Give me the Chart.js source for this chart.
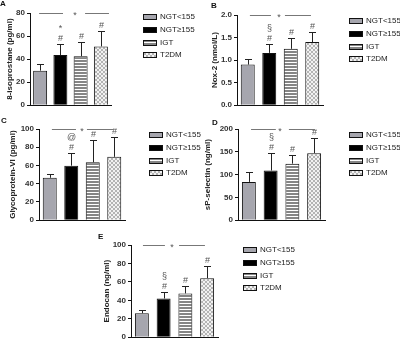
<!DOCTYPE html>
<html>
<head>
<meta charset="utf-8">
<script src="https://cdn.jsdelivr.net/npm/chart.js@4.4.0/dist/chart.umd.min.js"></script>
<style>
  body { margin: 0; background: #fff; }
  #wrap { position: relative; width: 400px; height: 344px; overflow: hidden; font-family: Arial, "Liberation Sans", sans-serif; }
  #wrap canvas { position: absolute; }
  .tag { position: absolute; font-weight: bold; font-size: 8px; line-height: 8px; color: #111; }
  .key { position: absolute; height: 8px; font-size: 8px; line-height: 8px; color: #222; white-space: nowrap; }
  .key canvas { left: 0; top: 1px; }
  .key span { position: absolute; left: 17px; top: 0; }
</style>
</head>
<body>
<div id="wrap"></div>
<script>
// groups shown in every panel
const groups = ['NGT<155', 'NGT≥155', 'IGT', 'T2DM'];

// A: 8-isoprostane
const isoMean = [30, 43.5, 42.5, 51];
const isoUpper = [36, 53.5, 54.5, 64.5];
const isoTicks = [0, 20, 40, 60, 80];

// B: Nox-2
const noxMean = [0.9, 1.16, 1.25, 1.4];
const noxUpper = [1.03, 1.35, 1.48, 1.63];
const noxTicks = [0, 0.5, 1.0, 1.5, 2.0];

// C: Glycoprotein-VI
const gpMean = [46.5, 59.8, 63.5, 69.5];
const gpUpper = [51, 74, 87.5, 91];
const gpTicks = [0, 20, 40, 60, 80, 100];

// D: sP-selectin
const selMean = [84, 109, 124, 147];
const selUpper = [105, 147, 142, 180];
const selTicks = [0, 50, 100, 150, 200];

// E: Endocan
const endoMean = [26, 42, 47.5, 64];
const endoUpper = [29.5, 49.5, 55, 77];
const endoTicks = [0, 20, 40, 60, 80, 100];

// significance symbols
const hashMarks = ['', '#', '#', '#'];
const isoMarks = ['', '*', '', ''];
const noxMarks = ['', '§', '', ''];
const gpMarks = ['', '@', '', ''];
const selMarks = ['', '§', '', ''];
const endoMarks = ['', '§', '', ''];

const FONT = 'Arial, "Liberation Sans", sans-serif';
Chart.defaults.font.family = FONT;

function stripes() {
    const c = document.createElement('canvas');
    c.width = 4; c.height = 3;
    const g = c.getContext('2d');
    g.fillStyle = '#ffffff'; g.fillRect(0, 0, 4, 3);
    g.fillStyle = '#858585'; g.fillRect(0, 0, 4, 2);
    return g.createPattern(c, 'repeat');
}
function hatch() {
    const c = document.createElement('canvas');
    c.width = 4; c.height = 4;
    const g = c.getContext('2d');
    g.fillStyle = '#f2f2f2'; g.fillRect(0, 0, 4, 4);
    g.fillStyle = '#b4b4b4';
    for (let i = 0; i < 4; i++) { g.fillRect(i, i, 1, 1); g.fillRect(3 - i, i, 1, 1); }
    return g.createPattern(c, 'repeat');
}
const fills = ['#a6a6ae', '#000000', stripes(), hatch()];

// error bars, symbols and the comparison line on top
const marks = {
    id: 'marks',
    afterDatasetsDraw(chart, args, o) {
        const ctx = chart.ctx, x = chart.scales.x, y = chart.scales.y;
        ctx.save();
        ctx.lineWidth = 1;
        ctx.textAlign = 'center';
        ctx.textBaseline = 'middle';
        ctx.font = '9px ' + FONT;
        o.upper.forEach((u, i) => {
            const px = Math.round(x.getPixelForValue(i)) + 0.5;
            const top = y.getPixelForValue(o.mean[i]);
            const cap = Math.round(y.getPixelForValue(u)) + 0.5;
            ctx.strokeStyle = '#222';
            ctx.beginPath();
            ctx.moveTo(px, top); ctx.lineTo(px, cap);
            ctx.moveTo(px - 3.5, cap); ctx.lineTo(px + 3.5, cap);
            ctx.stroke();
            ctx.fillStyle = '#555';
            if (o.hash[i]) ctx.fillText(o.hash[i], px, cap - 6);
            if (o.extra[i]) ctx.fillText(o.extra[i], px, cap - 16);
        });
        const ly = Math.round(y.top) + 0.5;
        ctx.strokeStyle = '#777';
        o.segs.forEach(s => {
            ctx.beginPath();
            ctx.moveTo(x.getPixelForValue(s[0]), ly);
            ctx.lineTo(x.getPixelForValue(s[1]), ly);
            ctx.stroke();
        });
        ctx.fillStyle = '#555';
        ctx.fillText('*', x.getPixelForValue(o.star), ly + 2);
        ctx.restore();
    }
};

const panels = [
    {tag: 'A', tx: 0, ty: 0, mean: isoMean, upper: isoUpper, ticks: isoTicks, dec: 0, extra: isoMarks,
     title: '8-isoprostane (pg/ml)', px: 0, py: 0, axisW: 30, plotW: 81, padT: 13, padB: 6, titlePad: 5,
     bar: 0.69, segs: [[-0.05, 1.13], [2.22, 3.4]], star: 1.72, lx: 143, ly: 17},
    {tag: 'B', tx: 211, ty: 2, mean: noxMean, upper: noxUpper, ticks: noxTicks, dec: 1, extra: noxMarks,
     title: 'Nox-2 (nmol/L)', px: 200, py: 0, axisW: 37, plotW: 86, padT: 15, padB: 5, titlePad: 10,
     bar: 0.65, segs: [[0.1, 1.08], [1.73, 2.94]], star: 1.45, lx: 349, ly: 21},
    {tag: 'C', tx: 1, ty: 117, mean: gpMean, upper: gpUpper, ticks: gpTicks, dec: 0, extra: gpMarks,
     title: 'Glycoprotein-VI (pg/ml)', px: 0, py: 115, axisW: 39, plotW: 86, padT: 14, padB: 5, titlePad: 8,
     bar: 0.65, segs: [[0.1, 1.22], [1.73, 2.94]], star: 1.5, lx: 149, ly: 135},
    {tag: 'D', tx: 212, ty: 119, mean: selMean, upper: selUpper, ticks: selTicks, dec: 0, extra: selMarks,
     title: 'sP-selectin (ng/ml)', px: 200, py: 115, axisW: 38, plotW: 87, padT: 14, padB: 5, titlePad: 3,
     bar: 0.64, segs: [[0.1, 1.24], [1.84, 3.04]], star: 1.43, lx: 349, ly: 135},
    {tag: 'E', tx: 98, ty: 233, mean: endoMean, upper: endoUpper, ticks: endoTicks, dec: 0, extra: endoMarks,
     title: 'Endocan (ng/ml)', px: 100, py: 232, axisW: 31, plotW: 87, padT: 13, padB: 5, titlePad: 2,
     bar: 0.64, segs: [[0.05, 1.06], [1.71, 2.9]], star: 1.39, lx: 243, ly: 250}
];

const wrap = document.getElementById('wrap');

function addLegend(p) {
    groups.forEach((g, i) => {
        const row = document.createElement('div');
        row.className = 'key';
        row.style.left = p.lx + 'px';
        row.style.top = Math.round(p.ly - 4 + i * 12.8) + 'px';
        const sw = document.createElement('canvas');
        sw.width = 14; sw.height = 6;
        const c = sw.getContext('2d');
        c.fillStyle = fills[i];
        c.fillRect(0, 0, 14, 6);
        c.strokeStyle = '#111';
        c.strokeRect(0.5, 0.5, 13, 5);
        const t = document.createElement('span');
        t.textContent = g;
        row.appendChild(sw);
        row.appendChild(t);
        wrap.appendChild(row);
    });
}

panels.forEach(p => {
    const cv = document.createElement('canvas');
    cv.width = p.axisW + p.plotW + 4; cv.height = 112;
    cv.style.left = p.px + 'px'; cv.style.top = p.py + 'px';
    wrap.appendChild(cv);

    const tag = document.createElement('div');
    tag.className = 'tag';
    tag.textContent = p.tag;
    tag.style.left = p.tx + 'px'; tag.style.top = p.ty + 'px';
    wrap.appendChild(tag);

    addLegend(p);

    new Chart(cv.getContext('2d'), {
        type: 'bar',
        data: {
            labels: groups,
            datasets: [{
                data: p.mean,
                backgroundColor: fills,
                borderColor: '#111',
                borderWidth: 1,
                barPercentage: p.bar,
                categoryPercentage: 1
            }]
        },
        plugins: [marks],
        options: {
            responsive: false,
            animation: false,
            layout: {padding: {left: 0, right: 4, top: p.padT, bottom: p.padB}},
            scales: {
                x: {
                    grid: {display: false},
                    border: {display: true, color: '#111', width: 1},
                    ticks: {display: false},
                    afterFit: s => { s.height = 0; }
                },
                y: {
                    min: 0,
                    max: p.ticks[p.ticks.length - 1],
                    afterBuildTicks: s => { s.ticks = p.ticks.map(v => ({value: v})); },
                    afterFit: s => { s.width = p.axisW; },
                    grid: {display: true, drawOnChartArea: false, drawTicks: true, tickLength: 3, color: '#111'},
                    border: {display: true, color: '#111', width: 1},
                    ticks: {
                        padding: 2,
                        color: '#333',
                        font: {size: 8, weight: 'bold'},
                        callback: v => Number(v).toFixed(p.dec)
                    },
                    title: {
                        display: true,
                        text: p.title,
                        color: '#222',
                        font: {size: 8, weight: 'bold'},
                        padding: {top: p.titlePad, bottom: 0}
                    }
                }
            },
            plugins: {
                legend: {display: false},
                tooltip: {enabled: false},
                marks: {mean: p.mean, upper: p.upper, hash: hashMarks, extra: p.extra, segs: p.segs, star: p.star}
            }
        }
    });
});
</script>
</body>
</html>
